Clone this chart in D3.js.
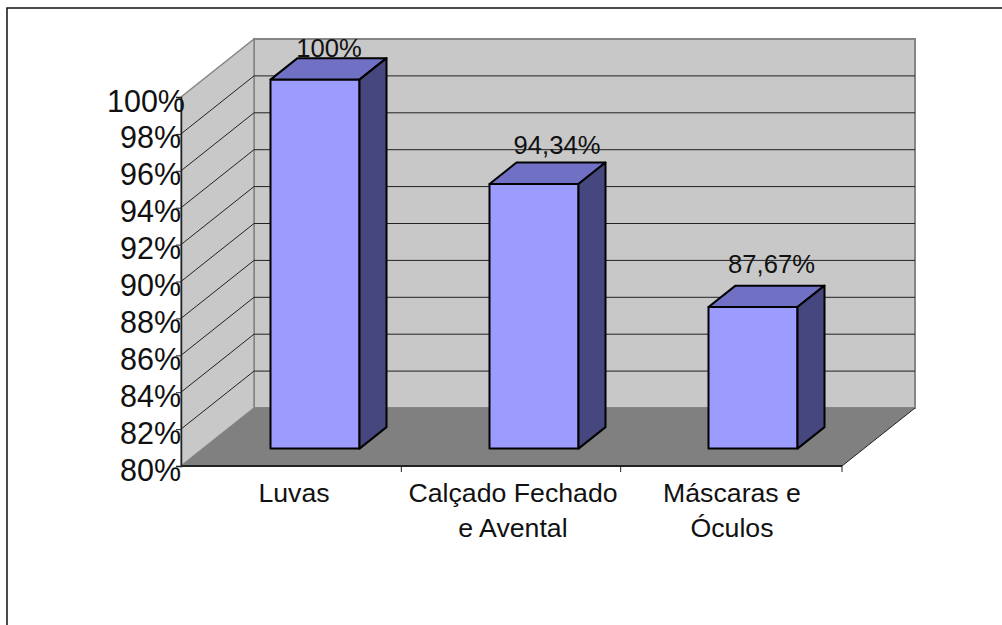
<!DOCTYPE html>
<html>
<head>
<meta charset="utf-8">
<script src="https://cdn.jsdelivr.net/npm/d3@7/dist/d3.min.js"></script>
<style>
  html, body { margin: 0; padding: 0; background: #fff; overflow: hidden; }
  svg { display: block; }
  text { font-family: "Liberation Sans", Arial, sans-serif; fill: #111; }
</style>
</head>
<body>
<svg id="chart" width="1002" height="625"></svg>
<script>
const categories = [["Luvas"], ["Calçado Fechado", "e Avental"], ["Máscaras e", "Óculos"]];
const values = [100, 94.34, 87.67];
const valueLabels = ["100%", "94,34%", "87,67%"];
const yTicks = [80, 82, 84, 86, 88, 90, 92, 94, 96, 98, 100];

const svg = d3.select("#chart");

// Oblique projection of the 3-D box: front plane plus a depth offset.
const depthX = 73, depthY = -58;
const x = d3.scaleBand().domain(d3.range(categories.length)).range([181, 842]);
const y = d3.scaleLinear().domain([80, 100]).range([466, 97]);
const barCentre = d3.scalePoint().domain(d3.range(categories.length)).range([315, 753]);
const catCentre = d3.scalePoint().domain(d3.range(categories.length)).range([294, 732]);
const barFront = 0.3, barBack = 0.67, barWidth = 89;

// Free placement of the data labels, relative to each bar's top centre
const labelShift = [[14, -1], [23, -9], [18.5, -13]];

const pts = a => a.map(p => p.join(",")).join(" ");
const yTop = y(100), yBase = y(80), L = x.range()[0], R = x.range()[1];

// Outer frame, running off the right and bottom of the page
svg.append("rect").attr("x", 7).attr("y", 8).attr("width", 1000).attr("height", 640)
  .attr("fill", "#fff").attr("stroke", "#111").attr("stroke-width", 1.5);

// Back wall, side wall and floor
svg.append("polygon")
  .attr("points", pts([[L + depthX, yTop + depthY], [R + depthX, yTop + depthY], [R + depthX, yBase + depthY], [L + depthX, yBase + depthY]]))
  .attr("fill", "#c8c8c8").attr("stroke", "#858585").attr("stroke-width", 2);
svg.append("polygon")
  .attr("points", pts([[L, yTop], [L + depthX, yTop + depthY], [L + depthX, yBase + depthY], [L, yBase]]))
  .attr("fill", "#c8c8c8").attr("stroke", "#858585").attr("stroke-width", 1.5);
svg.append("polygon")
  .attr("points", pts([[L, yBase], [L + depthX, yBase + depthY], [R + depthX, yBase + depthY], [R, yBase]]))
  .attr("fill", "#808080");

// Gridlines across the side wall and the back wall
const grid = svg.append("g").attr("stroke", "#222").attr("stroke-width", 1).attr("fill", "none");
yTicks.filter(t => t > 80).forEach(t => {
  if (t < 100) grid.append("line").attr("x1", L).attr("y1", y(t)).attr("x2", L + depthX).attr("y2", y(t) + depthY);
  if (t < 100) grid.append("line").attr("x1", L + depthX).attr("y1", y(t) + depthY).attr("x2", R + depthX).attr("y2", y(t) + depthY);
});

// Floor's right edge
svg.append("line").attr("x1", R).attr("y1", yBase).attr("x2", R + depthX).attr("y2", yBase + depthY)
  .attr("stroke", "#222").attr("stroke-width", 1);

// Value axis on the front-left edge
const yAxis = svg.append("g").attr("transform", `translate(${L},0)`)
  .call(d3.axisLeft(y).tickValues(yTicks).tickSize(5).tickPadding(0).tickFormat(d => d + "%"));
yAxis.selectAll("path").attr("stroke", "#222").attr("stroke-width", 1.5);
yAxis.selectAll("line").attr("stroke", "#222");
yAxis.selectAll("text")
  .attr("x", d => d === 100 ? 4 : 0)
  .attr("dy", "0.46em")
  .style("font-size", "30.5px").style("font-family", '"Liberation Sans", Arial, sans-serif').attr("fill", "#111");

// Category axis on the front-bottom edge
const xEdge = svg.append("g");
xEdge.append("line").attr("x1", L).attr("x2", R).attr("y1", yBase).attr("y2", yBase)
  .attr("stroke", "#222").attr("stroke-width", 2);
d3.range(1, categories.length + 1).forEach(i => {
  const tx = i < categories.length ? x(i) : R;
  xEdge.append("line").attr("x1", tx - (i === 2 ? 1 : 0)).attr("x2", tx - (i === 2 ? 1 : 0)).attr("y1", yBase).attr("y2", yBase + 6)
    .attr("stroke", "#222");
});
categories.forEach((lines, i) => {
  const t = svg.append("text").attr("text-anchor", "middle").style("font-size", "26.7px");
  lines.forEach((s, j) => t.append("tspan")
    .attr("x", catCentre(i))
    .attr("y", 502 + j * 35).text(s));
});

// Bars: front face, top face, side face, and value label
const bars = svg.append("g").selectAll("g").data(values).join("g");
const frontX = i => barCentre(i) - barWidth / 2;
const frontY = v => y(v) + barFront * depthY;
const botY = frontY(80);
const dx = (barBack - barFront) * depthX, dy = (barBack - barFront) * depthY;

bars.append("polygon").attr("fill", "#9c9cff").attr("stroke", "#000").attr("stroke-width", 2)
  .attr("stroke-linejoin", "round")
  .attr("points", (v, i) => pts([[frontX(i), frontY(v)], [frontX(i) + barWidth, frontY(v)], [frontX(i) + barWidth, botY], [frontX(i), botY]]));
bars.append("polygon").attr("fill", "#7070c4").attr("stroke", "#000").attr("stroke-width", 2)
  .attr("stroke-linejoin", "round")
  .attr("points", (v, i) => pts([[frontX(i), frontY(v)], [frontX(i) + dx, frontY(v) + dy], [frontX(i) + barWidth + dx, frontY(v) + dy], [frontX(i) + barWidth, frontY(v)]]));
bars.append("polygon").attr("fill", "#47477f").attr("stroke", "#000").attr("stroke-width", 2)
  .attr("stroke-linejoin", "round")
  .attr("points", (v, i) => pts([[frontX(i) + barWidth, frontY(v)], [frontX(i) + barWidth + dx, frontY(v) + dy], [frontX(i) + barWidth + dx, botY + dy], [frontX(i) + barWidth, botY]]));
bars.append("text").attr("text-anchor", "middle").style("font-size", "25.6px")
  .attr("x", (v, i) => barCentre(i) + labelShift[i][0])
  .attr("y", (v, i) => frontY(v) + dy + labelShift[i][1])
  .text((v, i) => valueLabels[i]);
</script>
</body>
</html>
